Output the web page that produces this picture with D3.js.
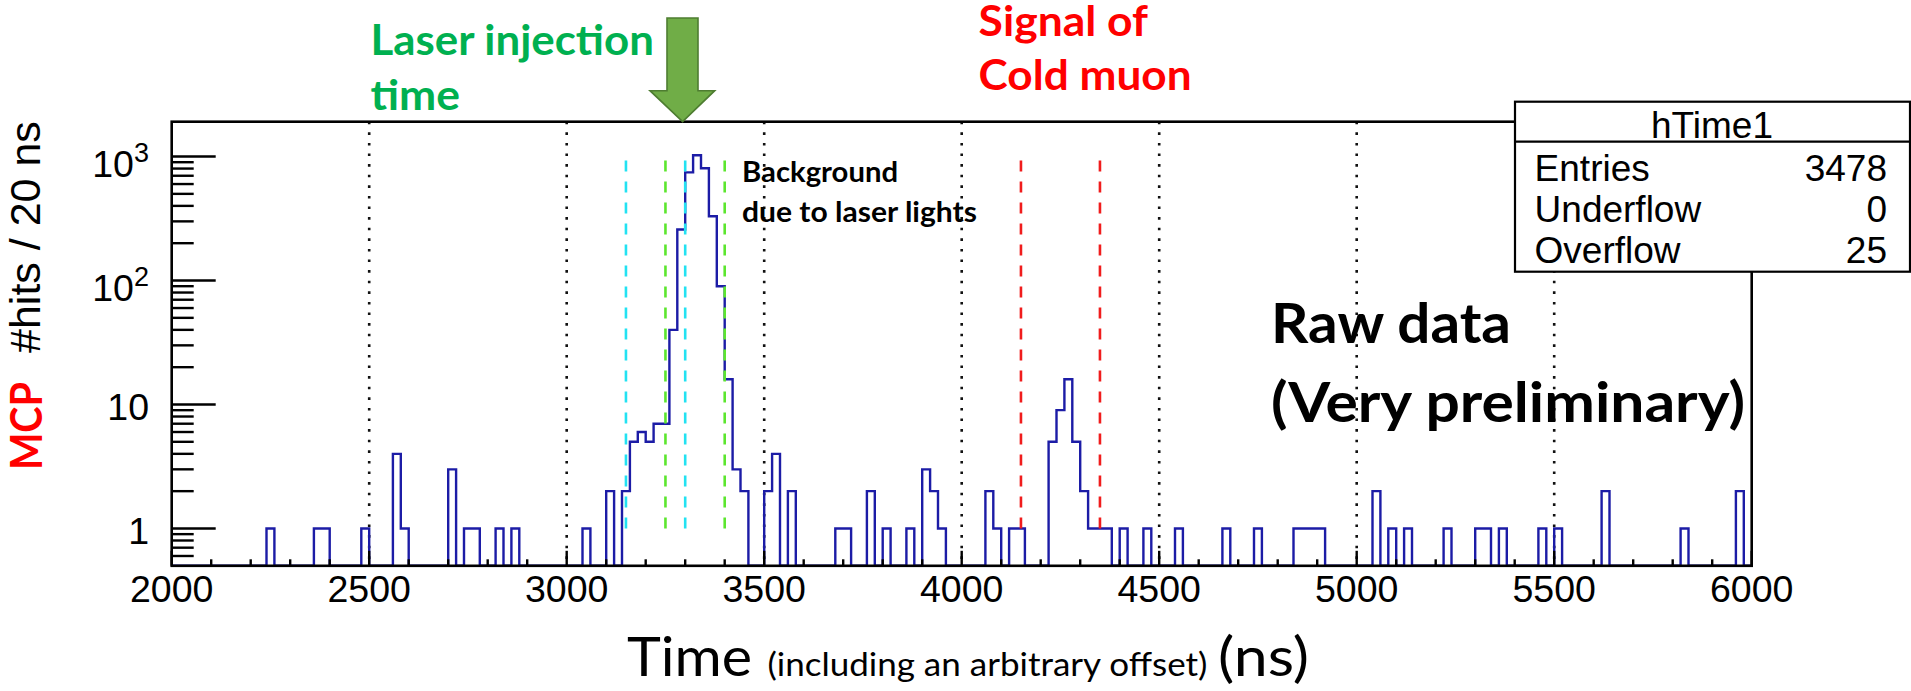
<!DOCTYPE html>
<html>
<head>
<meta charset="utf-8">
<script src="https://cdn.jsdelivr.net/npm/d3@7"></script>
<style>
  html, body { margin: 0; padding: 0; background: #fff; overflow: hidden; }
  svg { display: block; }
</style>
</head>
<body>
<svg id="chart" width="1911" height="691"></svg>
<script>
// ---- Histogram hTime1: MCP hits per 20 ns bin (only non-empty bins listed) ----
const binLowEdges = [
  2240, 2360, 2380, 2480, 2560, 2580, 2700, 2740, 2760, 2820, 2860,
  3040, 3100, 3140, 3160, 3180, 3200, 3220, 3240, 3260, 3280, 3300, 3320, 3340, 3360, 3380, 3400, 3420, 3440,
  3500, 3520, 3560, 3680, 3700, 3760, 3800, 3860, 3900, 3920, 3940,
  4060, 4080, 4120, 4140, 4220, 4240, 4260, 4280, 4300, 4320, 4340, 4360,
  4400, 4460, 4540, 4660, 4740, 4840, 4860, 4880, 4900,
  5040, 5080, 5120, 5220, 5300, 5320, 5360, 5460, 5500, 5620, 5820, 5960
];
const binCounts = [
  1, 1, 1, 1, 4, 1, 3, 1, 1, 1, 1,
  1, 2, 2, 5, 6, 5, 7, 7, 40, 258, 745, 1025, 804, 330, 90, 16, 3, 2,
  2, 4, 2, 1, 1, 2, 1, 1, 3, 2, 1,
  2, 1, 1, 1, 5, 9, 16, 5, 2, 1, 1, 1,
  1, 1, 1, 1, 1, 1, 1, 1, 1,
  2, 1, 1, 1, 1, 1, 1, 1, 1, 2, 1, 2
];
const binWidth = 20;
const timeRange = [2000, 6000];
const hitsRange = [0.5, 1910];
const underflowCount = 0;
const overflowCount = 25;

// Axis ticks
const xLabelTicks = [2000, 2500, 3000, 3500, 4000, 4500, 5000, 5500, 6000];
const xGridTicks = [2500, 3000, 3500, 4000, 4500, 5000, 5500];
const yDecadeTicks = [1, 10, 100, 1000];

// Time windows marked with dashed lines (ns)
const laserWindowA = [3150, 3300];   // cyan
const laserWindowB = [3250, 3400];   // green
const muonWindow = [4150, 4350];     // red

// ---------------------------------------------------------------------------
const svg = d3.select("#chart");
svg.append("rect").attr("width", 1911).attr("height", 691).attr("fill", "#fff");

const plot = { left: 171.7, right: 1751.7, top: 121.7, bottom: 565.8 };
const x = d3.scaleLinear().domain(timeRange).range([plot.left, plot.right]);
const y = d3.scaleLog().domain(hitsRange).range([plot.bottom, plot.top]);

const rootFont = "'Liberation Sans', Arial, Helvetica, sans-serif";
const slideFont = "Lato, 'Open Sans', sans-serif";

// Fill every bin of the histogram
const nBins = Math.round((timeRange[1] - timeRange[0]) / binWidth);
const counts = new Array(nBins).fill(0);
binLowEdges.forEach((e, i) => {
  counts[Math.round((e - timeRange[0]) / binWidth)] = binCounts[i];
});
const maxCount = d3.max(counts);

// Dotted vertical grid
svg.append("g").selectAll("line").data(xGridTicks).join("line")
  .attr("x1", d => x(d)).attr("x2", d => x(d))
  .attr("y1", plot.top).attr("y2", plot.bottom)
  .attr("stroke", "#111").attr("stroke-width", 2.6)
  .attr("stroke-dasharray", "2.6,8");

// Histogram outline (empty bins drop to the axis)
const floor = hitsRange[0];
const pts = [[timeRange[0], floor]];
counts.forEach((c, i) => pts.push([timeRange[0] + i * binWidth, c > 0 ? c : floor]));
pts.push([timeRange[1], counts[nBins - 1] > 0 ? counts[nBins - 1] : floor]);
pts.push([timeRange[1], floor]);
const histLine = d3.line().x(d => x(d[0])).y(d => y(d[1])).curve(d3.curveStepAfter);
svg.append("path").attr("d", histLine(pts))
  .attr("fill", "none").attr("stroke", "#1c1ca6").attr("stroke-width", 2.4)
  .attr("stroke-linejoin", "miter");

// Dashed time-window markers, from 1 hit up to the histogram maximum
function markers(times, color) {
  svg.append("g").selectAll("line").data(times).join("line")
    .attr("x1", d => x(d)).attr("x2", d => x(d))
    .attr("y1", y(1)).attr("y2", y(maxCount))
    .attr("stroke", color).attr("stroke-width", 2.6)
    .attr("stroke-dasharray", "11,10");
}
markers(laserWindowA, "#22e2f2");
markers(laserWindowB, "#5ce62e");
markers(muonWindow, "#f01c1c");

// Frame
svg.append("rect")
  .attr("x", plot.left).attr("y", plot.top)
  .attr("width", plot.right - plot.left).attr("height", plot.bottom - plot.top)
  .attr("fill", "none").attr("stroke", "#000").attr("stroke-width", 2.6);

// X ticks: every 100 ns, longer every 500 ns
const xTickAll = d3.range(timeRange[0], timeRange[1] + 1, 100);
svg.append("g").selectAll("line").data(xTickAll).join("line")
  .attr("x1", d => x(d)).attr("x2", d => x(d))
  .attr("y1", plot.bottom)
  .attr("y2", d => plot.bottom - (d % 500 === 0 ? 15 : 6.5))
  .attr("stroke", "#000").attr("stroke-width", 2.4);

svg.append("g").selectAll("text").data(xLabelTicks).join("text")
  .attr("x", d => x(d)).attr("y", 601.7)
  .attr("text-anchor", "middle")
  .attr("font-family", rootFont).attr("font-size", 37.5)
  .text(d => d);

// Y ticks: decades long, sub-decades short
const yMinor = [];
[0.1, 1, 10, 100, 1000].forEach(dec => {
  for (let k = 2; k <= 9; k++) {
    const v = k * dec;
    if (v > hitsRange[0] && v < hitsRange[1]) yMinor.push(v);
  }
});
svg.append("g").selectAll("line").data(yMinor).join("line")
  .attr("x1", plot.left).attr("x2", plot.left + 22)
  .attr("y1", d => y(d)).attr("y2", d => y(d))
  .attr("stroke", "#000").attr("stroke-width", 2.4);
svg.append("g").selectAll("line").data(yDecadeTicks).join("line")
  .attr("x1", plot.left).attr("x2", plot.left + 44)
  .attr("y1", d => y(d)).attr("y2", d => y(d))
  .attr("stroke", "#000").attr("stroke-width", 2.4);

const yLab = svg.append("g").attr("font-family", rootFont).attr("fill", "#000");
yDecadeTicks.forEach(v => {
  const p = Math.round(Math.log10(v));
  const t = yLab.append("text").attr("text-anchor", "end").attr("x", 149).attr("font-size", 37.5);
  if (p <= 1) {
    t.attr("y", y(v) + 15.7).text(String(v));
  } else {
    t.attr("y", y(v) + 20.5);
    t.append("tspan").text("10");
    t.append("tspan").attr("font-size", 27).attr("dy", -15).text(String(p));
  }
});

// Y title
svg.append("text")
  .attr("transform", "translate(42,470) rotate(-90)")
  .attr("font-family", slideFont).attr("font-weight", 700).attr("font-size", 43)
  .attr("fill", "#ff0000").attr("textLength", 88).attr("lengthAdjust", "spacingAndGlyphs")
  .text("MCP");
svg.append("text")
  .attr("transform", "translate(40,353) rotate(-90)")
  .attr("font-family", rootFont).attr("font-size", 43).attr("fill", "#000")
  .text("#hits / 20 ns");

// X title
function slideText(txt, px, py, size, width, weight, color) {
  return svg.append("text").attr("x", px).attr("y", py)
    .attr("font-family", slideFont).attr("font-weight", weight)
    .attr("font-size", size).attr("fill", color)
    .attr("textLength", width).attr("lengthAdjust", "spacingAndGlyphs")
    .text(txt);
}
slideText("Time", 627, 675.7, 53.6, 125, 400, "#000");
slideText("(including an arbitrary offset)", 767.4, 675.7, 33.7, 440, 400, "#000");
slideText("(ns)", 1218, 675.7, 53.6, 91, 400, "#000");

// Statistics box
const entries = d3.sum(counts) + underflowCount + overflowCount;
const statsNames = ["Entries", "Underflow", "Overflow"];
const statsValues = [entries, underflowCount, overflowCount];
const box = svg.append("g").attr("font-family", rootFont).attr("font-size", 37);
box.append("rect").attr("x", 1515).attr("y", 101.7).attr("width", 395).attr("height", 170)
  .attr("fill", "#fff").attr("stroke", "#000").attr("stroke-width", 2.2);
box.append("line").attr("x1", 1515).attr("x2", 1910).attr("y1", 141.7).attr("y2", 141.7)
  .attr("stroke", "#000").attr("stroke-width", 2.2);
box.append("text").attr("x", 1712).attr("y", 138).attr("text-anchor", "middle").text("hTime1");
const rowY = [181, 221.5, 263];
statsNames.forEach((n, i) => {
  box.append("text").attr("x", 1534.6).attr("y", rowY[i]).text(n);
  box.append("text").attr("x", 1887).attr("y", rowY[i]).attr("text-anchor", "end").text(statsValues[i]);
});

// Annotations
slideText("Laser injection", 370.5, 55, 42, 283.5, 700, "#00b050");
slideText("time", 370.5, 110, 42, 89.5, 700, "#00b050");
slideText("Signal of", 978.6, 36, 42, 169.4, 700, "#ff0000");
slideText("Cold muon", 978.6, 89.8, 42, 213, 700, "#ff0000");
slideText("Background", 742, 181.7, 28, 156, 700, "#000");
slideText("due to laser lights", 742, 221.7, 28, 235, 700, "#000");
slideText("Raw data", 1271, 343, 55, 240, 700, "#000");
slideText("(Very preliminary)", 1271, 421.7, 55, 474, 700, "#000");

// Arrow pointing at the laser injection time
const arrow = [[667, 18], [698, 18], [698, 90.7], [714.7, 90.7], [682.6, 121.7], [650, 90.7], [667, 90.7]];
svg.append("path").attr("d", d3.line()(arrow) + "Z")
  .attr("fill", "#70ad47").attr("stroke", "#4e7d31").attr("stroke-width", 1.6);
</script>
</body>
</html>
